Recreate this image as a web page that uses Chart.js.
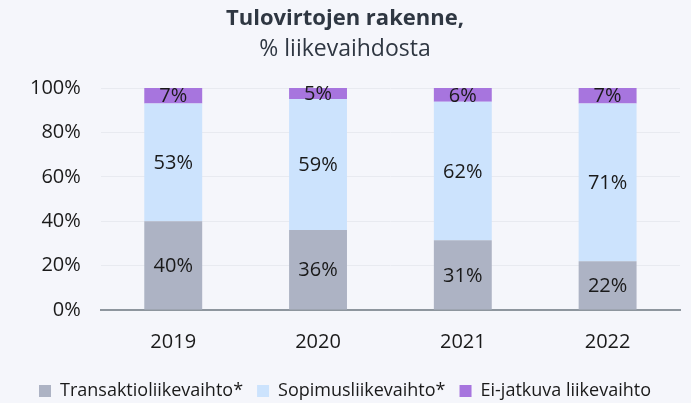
<!DOCTYPE html>
<html>
<head>
<meta charset="utf-8">
<script src="https://cdn.jsdelivr.net/npm/chart.js@4"></script>
<style>
  html, body { margin: 0; padding: 0; background: #f5f6fb; }
  #wrap { width: 691px; height: 403px; }
</style>
</head>
<body>
<div id="wrap"><canvas id="rakenne"></canvas></div>
<script>
const vuodet = ["2019", "2020", "2021", "2022"];
const transaktio = [40, 36, 31.4, 22];
const sopimus = [53, 59, 62.4, 71];
const eiJatkuva = [7, 5, 6.2, 7];
const yTicks = [0, 20, 40, 60, 80, 100];

const fontti = "'Open Sans', sans-serif";

// arvot palkkien keskelle
const arvoTekstit = {
  id: "arvoTekstit",
  afterDatasetsDraw(chart) {
    const ctx = chart.ctx;
    ctx.save();
    ctx.font = "20px " + fontti;
    ctx.fillStyle = "#1a1a1a";
    ctx.textAlign = "center";
    ctx.textBaseline = "middle";
    chart.data.datasets.forEach((ds, i) => {
      chart.getDatasetMeta(i).data.forEach((bar, j) => {
        const y = (bar.y + bar.base) / 2;
        ctx.fillText(Math.round(ds.data[j]) + "%", bar.x, y + 1);
      });
    });
    ctx.restore();
  }
};

let chart = new Chart(document.getElementById("rakenne"), {
  type: "bar",
  data: {
    labels: vuodet,
    datasets: [
      { label: "Transaktioliikevaihto*", data: transaktio, backgroundColor: "#adb3c4" },
      { label: "Sopimusliikevaihto*", data: sopimus, backgroundColor: "#cce3fd" },
      { label: "Ei-jatkuva liikevaihto", data: eiJatkuva, backgroundColor: "#a775de" },
    ],
  },
  options: {
    responsive: true,
    maintainAspectRatio: false,
    animation: false,
    layout: { padding: { left: 10, right: 11, top: 4, bottom: -7 } },
    datasets: { bar: { barPercentage: 0.4, categoryPercentage: 1 } },
    scales: {
      x: {
        stacked: true,
        grid: { display: false },
        border: { color: "#8e969e", width: 2 },
        ticks: { color: "#1a1a1a", font: { family: fontti, size: 20 }, padding: 12 },
        afterFit: (s) => { s.height += 2; },
      },
      y: {
        stacked: true,
        min: 0,
        max: 100,
        afterBuildTicks: (axis) => { axis.ticks = yTicks.map(v => ({ value: v })); },
        grid: { color: "#e8eaf0", drawTicks: false },
        border: { display: false },
        ticks: {
          color: "#1a1a1a",
          font: { family: fontti, size: 20 },
          padding: 20,
          callback: (v) => v + "%",
        },
      },
    },
    plugins: {
      title: {
        display: true,
        text: "Tulovirtojen rakenne,",
        color: "#2f3742",
        font: { family: fontti, size: 22, weight: "bold" },
        padding: { top: 2, bottom: 3 },
      },
      subtitle: {
        display: true,
        text: "% liikevaihdosta",
        color: "#2f3742",
        font: { family: fontti, size: 23 },
        padding: { bottom: 25 },
      },
      legend: {
        position: "bottom",
        labels: {
          color: "#1a1a1a",
          font: { family: fontti, size: 18 },
          boxWidth: 12,
          boxHeight: 12,
          padding: 14,
        },
      },
      tooltip: { enabled: false },
    },
  },
  plugins: [arvoTekstit],
});
</script>
</body>
</html>
